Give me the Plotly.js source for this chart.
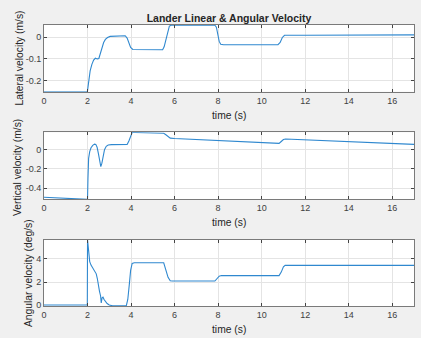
<!DOCTYPE html>
<html>
<head>
<meta charset="utf-8">
<script src="https://cdn.plot.ly/plotly-3.0.1.min.js"></script>
<style>html,body{margin:0;padding:0;background:#f0f0f0;}#chart{width:421px;height:338px;}</style>
</head>
<body>
<div id="chart"></div>
<script>
// Lateral velocity (m/s)
const latT = [0, 1.98, 2.0, 2.06, 2.12, 2.2, 2.28, 2.36, 2.45, 2.52, 2.58, 2.66, 2.74, 2.82, 2.92, 3.04, 3.3, 3.73, 3.82, 3.9, 3.98, 4.08, 4.5, 5.45, 5.52, 5.6, 5.68, 5.76, 5.85, 7.85, 7.92, 7.98, 8.05, 8.12, 8.25, 10.75, 10.85, 10.95, 11.05, 12, 17];
const latV = [-0.25, -0.25, -0.245, -0.2, -0.155, -0.125, -0.105, -0.097, -0.1, -0.098, -0.075, -0.048, -0.025, -0.011, -0.002, 0.003, 0.005, 0.006, -0.005, -0.03, -0.048, -0.057, -0.058, -0.058, -0.045, -0.01, 0.025, 0.05, 0.054, 0.054, 0.045, 0.01, -0.02, -0.033, -0.035, -0.035, -0.025, -0.002, 0.008, 0.008, 0.01];

// Vertical velocity (m/s)
const verT = [0, 1.0, 1.98, 2.0, 2.02, 2.05, 2.1, 2.16, 2.24, 2.32, 2.38, 2.44, 2.5, 2.56, 2.61, 2.66, 2.72, 2.78, 2.86, 2.95, 3.1, 3.5, 3.82, 3.9, 3.98, 4.05, 4.2, 5.0, 5.5, 5.6, 5.7, 5.8, 6.0, 10.8, 10.9, 11.0, 11.1, 17];
const verV = [-0.493, -0.502, -0.512, -0.514, -0.3, -0.09, -0.02, 0.02, 0.045, 0.058, 0.055, 0.025, -0.04, -0.12, -0.175, -0.14, -0.06, 0.0, 0.035, 0.048, 0.052, 0.052, 0.053, 0.09, 0.15, 0.178, 0.178, 0.175, 0.17, 0.155, 0.135, 0.12, 0.116, 0.065, 0.085, 0.105, 0.11, 0.055];

// Angular velocity (deg/s)
const angT = [0, 1.99, 2.0, 2.03, 2.06, 2.1, 2.16, 2.25, 2.35, 2.4, 2.45, 2.5, 2.55, 2.6, 2.63, 2.67, 2.71, 2.76, 2.82, 2.9, 3.0, 3.15, 3.78, 3.85, 3.92, 3.98, 4.05, 4.15, 5.5, 5.6, 5.7, 5.8, 5.9, 7.85, 7.95, 8.05, 8.15, 10.8, 10.9, 11.0, 11.08, 17];
const angV = [0.02, 0.02, 5.63, 4.8, 4.2, 3.75, 3.45, 3.2, 2.9, 2.7, 2.3, 1.6, 1.2, 0.8, 0.2, 0.65, 0.7, 0.5, 0.35, 0.15, 0.03, -0.05, -0.05, 0.5, 1.8, 3.0, 3.6, 3.65, 3.65, 3.1, 2.4, 2.1, 2.08, 2.08, 2.25, 2.5, 2.55, 2.55, 2.85, 3.3, 3.43, 3.43];

const xTickVals = [0, 2, 4, 6, 8, 10, 12, 14, 16];
const xTickText = ['0', '2', '4', '6', '8', '10', '12', '14', '16'];
const latTickVals = [-0.2, -0.1, 0];
const latTickText = ['-0.2', '-0.1', '0'];
const verTickVals = [-0.4, -0.2, 0];
const verTickText = ['-0.4', '-0.2', '0'];
const angTickVals = [0, 2, 4];
const angTickText = ['0', '2', '4'];

const titleText = 'Lander Linear & Angular Velocity';
const xLabel = 'time (s)';
const yLabels = ['Lateral velocity (m/s)', 'Vertical velocity (m/s)', 'Angular velocity (deg/s)'];

const lineStyle = {color: '#2f88cf', width: 1.1};
const traces = [
  {x: latT, y: latV, xaxis: 'x', yaxis: 'y', type: 'scatter', mode: 'lines', line: lineStyle, hoverinfo: 'none'},
  {x: verT, y: verV, xaxis: 'x2', yaxis: 'y2', type: 'scatter', mode: 'lines', line: lineStyle, hoverinfo: 'none'},
  {x: angT, y: angV, xaxis: 'x3', yaxis: 'y3', type: 'scatter', mode: 'lines', line: lineStyle, hoverinfo: 'none'}
];

const fontFam = '"Liberation Sans", Arial, sans-serif';
const labelFont = {family: fontFam, size: 10.3, color: '#262626'};
function xAx(anchor) {
  return {
    anchor: anchor, domain: [0, 1], range: [0, 17],
    tickvals: xTickVals, ticktext: xTickText,
    ticks: 'inside', ticklen: 3, tickcolor: '#444', tickwidth: 1,
    showline: true, linecolor: '#7a7a7a', linewidth: 1, mirror: 'ticks',
    showgrid: true, gridcolor: '#e4e4e4', gridwidth: 1, zeroline: false,
    tickfont: {family: fontFam, size: 9, color: '#404040'},
    fixedrange: true
  };
}
function yAx(anchor, dom, rng, tv, tt) {
  return {
    anchor: anchor, domain: dom, range: rng,
    tickvals: tv, ticktext: tt,
    ticks: 'inside', ticklen: 3, tickcolor: '#444', tickwidth: 1,
    showline: true, linecolor: '#7a7a7a', linewidth: 1, mirror: 'ticks',
    showgrid: true, gridcolor: '#e4e4e4', gridwidth: 1, zeroline: false,
    tickfont: {family: fontFam, size: 9, color: '#404040'},
    fixedrange: true
  };
}

// axis label annotations (paper coordinates)
const xLabelYs = [0.6797, 0.2989, -0.0854];
const yLabelXs = [-0.0662, -0.0703, -0.0432];
const yLabelYs = [0.8826, 0.4947, 0.1174];
const annotations = [];
for (let i = 0; i < 3; i++) {
  annotations.push({text: xLabel, xref: 'paper', yref: 'paper', x: 0.5, y: xLabelYs[i],
    xanchor: 'center', yanchor: 'middle', showarrow: false, font: labelFont});
  annotations.push({text: yLabels[i], xref: 'paper', yref: 'paper', x: yLabelXs[i], y: yLabelYs[i],
    xanchor: 'center', yanchor: 'middle', textangle: -90, showarrow: false, font: labelFont});
}

const layout = {
  width: 421, height: 338,
  paper_bgcolor: '#f0f0f0', plot_bgcolor: '#ffffff',
  margin: {l: 44, r: 7, t: 25, b: 32, pad: 0},
  showlegend: false,
  title: {text: '<b>' + titleText + '</b>', font: {family: fontFam, size: 10.5, color: '#262626'},
          xref: 'paper', x: 0.5, xanchor: 'center', yref: 'container', y: 0.946, yanchor: 'middle'},
  xaxis: xAx('y'),
  yaxis: yAx('x', [0.7626, 1.0], [-0.25, 0.055], latTickVals, latTickText),
  xaxis2: xAx('y2'),
  yaxis2: yAx('x2', [0.3797, 0.6181], [-0.514, 0.18], verTickVals, verTickText),
  xaxis3: xAx('y3'),
  yaxis3: yAx('x3', [0, 0.2359], [-0.06, 5.63], angTickVals, angTickText),
  annotations: annotations
};

Plotly.newPlot('chart', traces, layout, {staticPlot: true, displayModeBar: false});
</script>
</body>
</html>
